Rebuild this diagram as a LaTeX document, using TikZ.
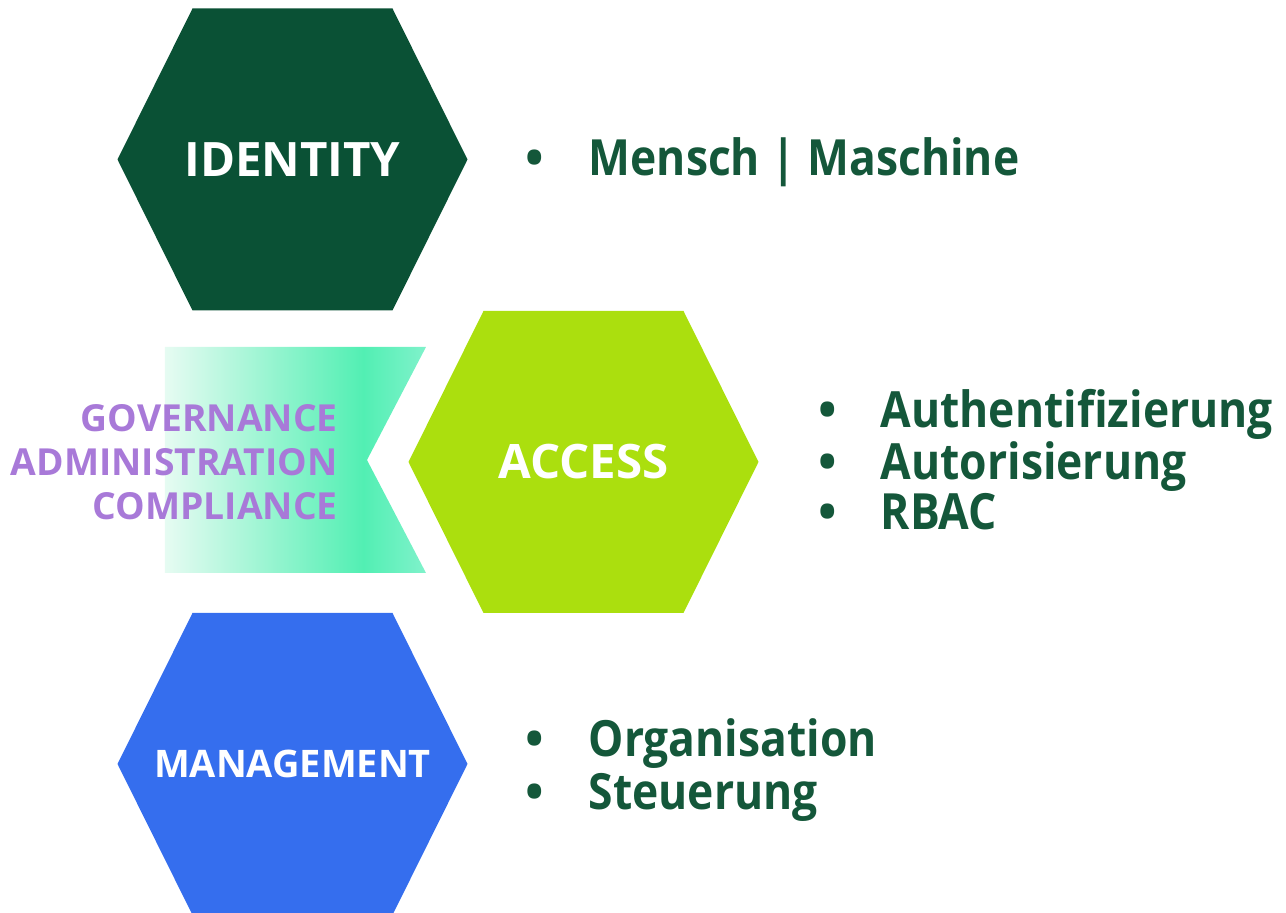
\documentclass[tikz,border=0pt]{standalone}
\usepackage{fontspec}
\setmainfont{Open Sans}
\newfontfamily\itemfont[FakeStretch=0.89]{Open Sans}
\usetikzlibrary{shapes}
\usetikzlibrary{positioning}
\definecolor{idgreen}{HTML}{0A5135}
\definecolor{aclime}{HTML}{ABDF0E}
\definecolor{mgblue}{HTML}{356EEE}
\definecolor{txgreen}{HTML}{14573A}
\definecolor{gvpurple}{HTML}{A879D8}
\definecolor{gvleft}{HTML}{E6FBF2}
\definecolor{gvmid}{HTML}{52EFB3}
\definecolor{gvright}{HTML}{80F2CB}
\pgfdeclarehorizontalshading{govshade}{100bp}{color(0bp)=(gvleft); color(25bp)=(gvleft); color(63bp)=(gvmid); color(75bp)=(gvright); color(100bp)=(gvright)}
% hexagon 3.5cm wide, 3.02cm high, around a named coordinate
\newcommand{\hexfill}[2]{\fill[#1] (#2) ++(-1.75,0) -- ++(0.75,1.51) -- ++(2,0) -- ++(0.75,-1.51) -- ++(-0.75,-1.51) -- ++(-2,0) -- cycle;}
\tikzset{
    hexnode/.style = {inner sep=0pt, align=center, font=\bfseries\fontsize{13.5}{16}\selectfont, text=white},
    hexnodes/.style = {hexnode, font=\bfseries\fontsize{10.8}{13}\selectfont},
    bullet/.style = {anchor=base, inner sep=0pt, text=txgreen, font=\bfseries\fontsize{14}{17}\selectfont},
    item/.style = {anchor=base west, inner sep=0pt, text=txgreen, font=\itemfont\bfseries\fontsize{14.2}{17}\selectfont},
    govtext/.style = {align=right, inner sep=0pt, text=gvpurple, font=\bfseries\fontsize{10.6}{12.5}\selectfont}
}
\begin{document}
\begin{tikzpicture}
\path[use as bounding box] (0,0) rectangle (12.86,-9.13);
% governance band
\path[shading=govshade] (1.65,-3.47) -- (4.26,-3.47) -- (3.67,-4.60) -- (4.26,-5.73) -- (1.65,-5.73) -- cycle;
\node[govtext, anchor=east] at (3.385,-4.62) (gov) {GOVERNANCE\\ADMINISTRATION\\COMPLIANCE};
%
\coordinate (idc) at (2.925,-1.595);
\coordinate (acc) at (5.835,-4.62);
\coordinate (mgc) at (2.925,-7.64);
\hexfill{idgreen}{idc}
\hexfill{aclime}{acc}
\hexfill{mgblue}{mgc}
\node[hexnode] at (idc) (id) {IDENTITY};
\node[hexnode] at (acc) (ac) {ACCESS};
\node[hexnodes] at (mgc) (mg) {MANAGEMENT};
%
\node[bullet] at (5.35,-1.76) (b1) {•};
\node[item] at (5.88,-1.76) (i1) {Mensch | Maschine};
%
\node[bullet] at (8.28,-4.28) (b2) {•};
\node[item] at (8.80,-4.28) (i2) {Authentifizierung};
\node[bullet] at (8.28,-4.80) (b3) {•};
\node[item] at (8.80,-4.80) (i3) {Autorisierung};
\node[bullet] at (8.28,-5.30) (b4) {•};
\node[item] at (8.80,-5.30) (i4) {RBAC};
%
\node[bullet] at (5.35,-7.57) (b5) {•};
\node[item] at (5.88,-7.57) (i5) {Organisation};
\node[bullet] at (5.35,-8.10) (b6) {•};
\node[item] at (5.88,-8.10) (i6) {Steuerung};

\end{tikzpicture}
\end{document}
